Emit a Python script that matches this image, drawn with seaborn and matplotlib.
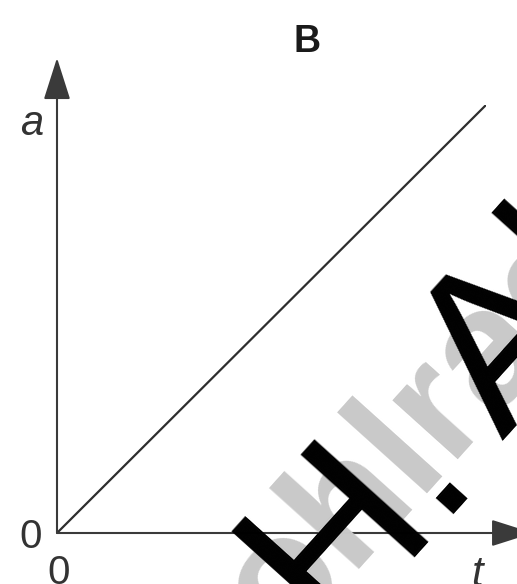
import matplotlib
matplotlib.use("Agg")
import matplotlib.pyplot as plt
import seaborn as sns
import pandas as pd
import numpy as np

# data: a grows linearly with t
t_values = [0.0, 1.0]
a_values = [0.0, 1.0]
panel_label = "B"
x_label = "t"
y_label = "a"

W, H = 517, 584

sns.set_theme(style="white")
plt.rcParams["font.family"] = ["Liberation Sans", "DejaVu Sans"]

data = pd.DataFrame({"t": t_values, "a": a_values})

fig = plt.figure(figsize=(W / 100, H / 100), dpi=100)

# axes placed so the origin and the line end land where they do in the figure
x0, y0 = 57, 533
x1, y1 = 486, 105
ax = fig.add_axes([x0 / W, 1 - y0 / H, (x1 - x0) / W, (y0 - y1) / H])
ax.set_xlim(0, 1)
ax.set_ylim(0, 1)

def fx(px):
    return px / W

def fy(py):
    return 1 - py / H

# watermarks
wm_angle = 48
fig.text(fx(282), fy(648), "ohlrad", fontsize=120, fontweight="bold", color="#c9c9c9",
         rotation=wm_angle, rotation_mode="anchor", ha="left", va="baseline", zorder=0)
wm_start = np.array([328.0, 634.0])
fig.text(fx(wm_start[0]), fy(wm_start[1]), "H.", fontsize=160, color="black",
         rotation=wm_angle, rotation_mode="anchor", ha="left", va="baseline", zorder=5)
# measure "H." to place the rest of the watermark with a small gap
probe = fig.text(0, 0, "H.", fontsize=160)
fig.canvas.draw()
adv = probe.get_window_extent().width
probe.remove()
step = adv + 38
b = np.array([np.cos(np.radians(wm_angle)), -np.sin(np.radians(wm_angle))])
rest = wm_start + step * b
fig.text(fx(rest[0]), fy(rest[1]), "Ah", fontsize=160, color="black",
         rotation=wm_angle, rotation_mode="anchor", ha="left", va="baseline", zorder=5)

g = sns.lineplot(x="t", y="a", data=data, ax=ax, color="#2e2e2e", linewidth=1.6, zorder=3)

ax.set_facecolor("none")
for s in ax.spines.values():
    s.set_visible(False)
ax.set_xticks([])
ax.set_yticks([])
ax.set_xlabel("")
ax.set_ylabel("")

# axis arrows
arrow = dict(arrowstyle="-|>,head_length=2.2,head_width=0.7", mutation_scale=12,
             color="#3a3a3a", lw=1.5, shrinkA=0, shrinkB=0)
ax.annotate("", xy=(1.11, 0), xytext=(0, 0), arrowprops=arrow, annotation_clip=False, zorder=4)
ax.annotate("", xy=(0, 1.11), xytext=(0, 0), arrowprops=arrow, annotation_clip=False, zorder=4)

fig.text(fx(307), fy(42), panel_label, fontsize=27, fontweight="bold", color="#1a1a1a",
         ha="center", va="center")
fig.text(fx(32), fy(124), y_label, fontsize=30, style="italic", color="#333333",
         ha="center", va="center")
fig.text(fx(477), fy(575), x_label, fontsize=30, style="italic", color="#333333",
         ha="center", va="center")
fig.text(fx(31), fy(537), "0", fontsize=29, color="#333333", ha="center", va="center")
fig.text(fx(59), fy(573), "0", fontsize=29, color="#333333", ha="center", va="center")

fig.savefig("out.png", dpi=100)
